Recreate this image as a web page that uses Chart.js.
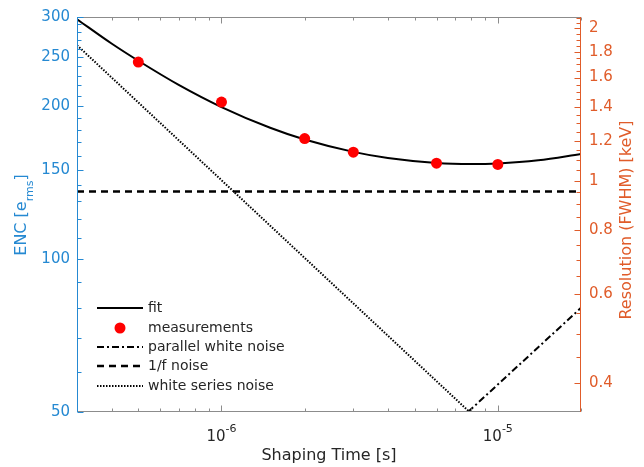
<!DOCTYPE html>
<html lang="en">
<head>
    <meta charset="UTF-8">
    <title>ENC vs Shaping Time</title>
    <style>
        body {
            margin: 0;
            background-color: #fff;
        }

        .chart-box {
            position: relative;
            width: 644px;
            height: 467px;
        }
    </style>
</head>
<body>
    <div class="chart-box">
        <canvas id="encChart"></canvas>
    </div>

    <script src="https://cdn.jsdelivr.net/npm/chart.js"></script>
    <script>
        // Measurements: shaping time [s] and ENC [e rms]
        const measTimes = [5e-7, 1e-6, 2e-6, 3e-6, 6e-6, 1e-5];
        const measEnc = [244.5, 204, 172.8, 162.5, 154.6, 153.7];

        // Fit curve
        const fitTimes = [3e-7, 4e-7, 5e-7, 7e-7, 1e-6, 1.5e-6, 2e-6, 3e-6, 4e-6, 6e-6, 8e-6, 1e-5, 1.4e-5, 2e-5];
        const fitEnc = [297, 266, 246, 220.5, 199.4, 181.5, 172.1, 162.7, 158.2, 154.7, 154.0, 154.4, 156.6, 161.2];

        // Noise components (straight lines on log-log, so just the ends)
        const parallelTimes = [7.8e-6, 2e-5];
        const parallelEnc = [50, 80.2];
        const flickerTimes = [3e-7, 2e-5];
        const flickerEnc = [136, 136];
        const seriesTimes = [3e-7, 7.9e-6];
        const seriesEnc = [264, 50];

        // Ticks
        const xMajorTicks = [1e-6, 1e-5];
        const xMajorExp = ['-6', '-5'];
        const xMinorTicks = [3e-7, 4e-7, 5e-7, 6e-7, 7e-7, 8e-7, 9e-7,
            2e-6, 3e-6, 4e-6, 5e-6, 6e-6, 7e-6, 8e-6, 9e-6, 2e-5];
        const encTicks = [50, 100, 150, 200, 250, 300];
        const encMinorTicks = [60, 70, 80, 90, 110, 120, 130, 140, 160, 170, 180, 190,
            210, 220, 230, 240, 260, 270, 280, 290];
        const resTicks = [0.4, 0.6, 0.8, 1, 1.2, 1.4, 1.6, 1.8, 2];
        const resMinorTicks = [0.45, 0.5, 0.55, 0.65, 0.7, 0.75, 0.85, 0.9, 0.95,
            1.05, 1.1, 1.15, 1.25, 1.3, 1.35, 1.45, 1.5, 1.55, 1.65, 1.7, 1.75,
            1.85, 1.9, 1.95, 2.05, 2.1];

        const legendLabels = ['fit', 'measurements', 'parallel white noise', '1/f noise', 'white series noise'];

        // keV FWHM per electron (right axis is the left one rescaled)
        const kevPerElectron = 0.00702;
        const encMin = 50, encMax = 300;

        const BLUE = '#2589d2';
        const ORANGE = '#e05c2a';
        const GRAY = '#8c8c8c';
        const TEXT = '#262626';
        const FONT = 'DejaVu Sans';

        const toPoints = (xs, ys) => xs.map((x, i) => ({ x: x, y: ys[i] }));

        // frame, inward ticks, axis titles, x labels and legend
        const decorPlugin = {
            id: 'decor',
            afterDraw(chart) {
                const ctx = chart.ctx;
                const a = chart.chartArea;
                const sx = chart.scales.x, sy = chart.scales.y, sr = chart.scales.y2;
                const L = Math.round(a.left) + 0.5, R = Math.round(a.right) - 0.5;
                const T = Math.round(a.top) + 0.5, B = Math.round(a.bottom) - 0.5;

                ctx.save();
                ctx.lineWidth = 1;

                // top and bottom frame + x ticks
                ctx.strokeStyle = GRAY;
                ctx.beginPath();
                ctx.moveTo(L, T); ctx.lineTo(R, T);
                ctx.moveTo(L, B); ctx.lineTo(R, B);
                const xTick = (v, len) => {
                    const px = Math.round(sx.getPixelForValue(v)) + 0.5;
                    ctx.moveTo(px, B); ctx.lineTo(px, B - len);
                    ctx.moveTo(px, T); ctx.lineTo(px, T + len);
                };
                xMinorTicks.forEach(v => xTick(v, 3));
                xMajorTicks.forEach(v => xTick(v, 6));
                ctx.stroke();

                // left axis
                ctx.strokeStyle = BLUE;
                ctx.beginPath();
                ctx.moveTo(L, T - 0.5); ctx.lineTo(L, B + 0.5);
                encMinorTicks.forEach(v => {
                    const py = Math.round(sy.getPixelForValue(v)) + 0.5;
                    ctx.moveTo(L, py); ctx.lineTo(L + 4, py);
                });
                encTicks.forEach(v => {
                    const py = Math.round(sy.getPixelForValue(v)) + 0.5;
                    ctx.moveTo(L, py); ctx.lineTo(L + 6, py);
                });
                ctx.stroke();

                // right axis
                ctx.strokeStyle = ORANGE;
                ctx.beginPath();
                ctx.moveTo(R, T - 0.5); ctx.lineTo(R, B + 0.5);
                resMinorTicks.forEach(v => {
                    const py = Math.round(sr.getPixelForValue(v)) + 0.5;
                    ctx.moveTo(R, py); ctx.lineTo(R - 4, py);
                });
                resTicks.forEach(v => {
                    const py = Math.round(sr.getPixelForValue(v)) + 0.5;
                    ctx.moveTo(R, py); ctx.lineTo(R - 6, py);
                });
                ctx.stroke();

                // x tick labels 10^n
                ctx.fillStyle = TEXT;
                ctx.textBaseline = 'alphabetic';
                ctx.textAlign = 'left';
                xMajorTicks.forEach((v, i) => {
                    const px = sx.getPixelForValue(v);
                    ctx.font = '15px "' + FONT + '"';
                    const wBase = ctx.measureText('10').width;
                    ctx.font = '11px "' + FONT + '"';
                    const wExp = ctx.measureText(xMajorExp[i]).width;
                    const x0 = px - (wBase + wExp) / 2;
                    ctx.font = '15px "' + FONT + '"';
                    ctx.fillText('10', x0, 441);
                    ctx.font = '11px "' + FONT + '"';
                    ctx.fillText(xMajorExp[i], x0 + wBase, 432);
                });

                // x title
                ctx.font = '16px "' + FONT + '"';
                ctx.textAlign = 'center';
                ctx.textBaseline = 'middle';
                ctx.fillText('Shaping Time [s]', 329, 456);

                // left title ENC [e_rms]
                ctx.save();
                ctx.translate(22, 215);
                ctx.rotate(-Math.PI / 2);
                ctx.fillStyle = BLUE;
                ctx.textAlign = 'left';
                ctx.textBaseline = 'middle';
                ctx.font = '16px "' + FONT + '"';
                const p1 = 'ENC [e', p3 = ']';
                const w1 = ctx.measureText(p1).width, w3 = ctx.measureText(p3).width;
                ctx.font = '11px "' + FONT + '"';
                const w2 = ctx.measureText('rms').width;
                let tx = -(w1 + w2 + w3) / 2;
                ctx.font = '16px "' + FONT + '"';
                ctx.fillText(p1, tx, 0);
                ctx.font = '11px "' + FONT + '"';
                ctx.fillText('rms', tx + w1, 8);
                ctx.font = '16px "' + FONT + '"';
                ctx.fillText(p3, tx + w1 + w2, 0);
                ctx.restore();

                // right title, reads bottom to top like the left one
                ctx.save();
                ctx.translate(627, 220);
                ctx.rotate(-Math.PI / 2);
                ctx.fillStyle = ORANGE;
                ctx.textAlign = 'center';
                ctx.textBaseline = 'middle';
                ctx.font = '16px "' + FONT + '"';
                ctx.fillText('Resolution (FWHM) [keV]', 0, 0);
                ctx.restore();

                // legend
                const lx0 = 97, lx1 = 143, tx0 = 148;
                const ly = [308, 328, 347, 366, 386];
                const styles = [
                    { dash: [], w: 2 },
                    null,
                    { dash: [7, 3, 2, 3], w: 2 },
                    { dash: [7, 5], w: 2.5 },
                    { dash: [1.5, 1.5], w: 2 }
                ];
                ctx.strokeStyle = '#000';
                styles.forEach((s, i) => {
                    if (s) {
                        ctx.setLineDash(s.dash);
                        ctx.lineWidth = s.w;
                        ctx.beginPath();
                        ctx.moveTo(lx0, ly[i]); ctx.lineTo(lx1, ly[i]);
                        ctx.stroke();
                    } else {
                        ctx.setLineDash([]);
                        ctx.fillStyle = '#ff0000';
                        ctx.beginPath();
                        ctx.arc((lx0 + lx1) / 2, ly[i], 5.5, 0, Math.PI * 2);
                        ctx.fill();
                    }
                });
                ctx.setLineDash([]);
                ctx.fillStyle = TEXT;
                ctx.font = '14px "' + FONT + '"';
                ctx.textAlign = 'left';
                ctx.textBaseline = 'middle';
                legendLabels.forEach((t, i) => ctx.fillText(t, tx0, ly[i]));

                ctx.restore();
            }
        };

        const ctxEnc = document.getElementById('encChart').getContext('2d');
        const encChart = new Chart(ctxEnc, {
            type: 'line',
            data: {
                datasets: [
                    {
                        label: 'measurements',
                        data: toPoints(measTimes, measEnc),
                        showLine: false,
                        pointRadius: 5.5,
                        pointBackgroundColor: '#ff0000',
                        pointBorderWidth: 0
                    },
                    {
                        label: 'fit',
                        data: toPoints(fitTimes, fitEnc),
                        borderColor: '#000',
                        borderWidth: 2,
                        pointRadius: 0,
                        cubicInterpolationMode: 'monotone'
                    },
                    {
                        label: 'parallel white noise',
                        data: toPoints(parallelTimes, parallelEnc),
                        borderColor: '#000',
                        borderWidth: 2,
                        borderDash: [7, 3, 2, 3],
                        pointRadius: 0
                    },
                    {
                        label: '1/f noise',
                        data: toPoints(flickerTimes, flickerEnc),
                        borderColor: '#000',
                        borderWidth: 2.5,
                        borderDash: [7, 5],
                        pointRadius: 0
                    },
                    {
                        label: 'white series noise',
                        data: toPoints(seriesTimes, seriesEnc),
                        borderColor: '#000',
                        borderWidth: 2,
                        borderDash: [1.5, 1.5],
                        pointRadius: 0
                    }
                ]
            },
            options: {
                responsive: true,
                maintainAspectRatio: false,
                animation: false,
                devicePixelRatio: 1,
                layout: { padding: { top: 17, left: 0, right: 0, bottom: 0 } },
                plugins: {
                    legend: { display: false },
                    tooltip: { enabled: false }
                },
                scales: {
                    x: {
                        type: 'logarithmic',
                        min: 3e-7,
                        max: 2e-5,
                        grid: { display: false },
                        border: { display: false },
                        ticks: { display: false },
                        afterFit: s => { s.height = 55; }
                    },
                    y: {
                        type: 'logarithmic',
                        position: 'left',
                        min: encMin,
                        max: encMax,
                        grid: { display: false, drawTicks: false },
                        border: { display: false },
                        afterBuildTicks: s => { s.ticks = encTicks.map(v => ({ value: v })); },
                        ticks: {
                            autoSkip: false,
                            padding: 7,
                            color: BLUE,
                            font: { family: FONT, size: 15 },
                            callback: v => String(v)
                        },
                        afterFit: s => { s.width = 77; }
                    },
                    y2: {
                        type: 'logarithmic',
                        position: 'right',
                        min: encMin * kevPerElectron,
                        max: encMax * kevPerElectron,
                        grid: { display: false, drawTicks: false },
                        border: { display: false },
                        afterBuildTicks: s => { s.ticks = resTicks.map(v => ({ value: v })); },
                        ticks: {
                            autoSkip: false,
                            padding: 8,
                            color: ORANGE,
                            font: { family: FONT, size: 15 },
                            callback: v => String(v)
                        },
                        afterFit: s => { s.width = 63; }
                    }
                }
            },
            plugins: [decorPlugin]
        });
    </script>
</body>
</html>
